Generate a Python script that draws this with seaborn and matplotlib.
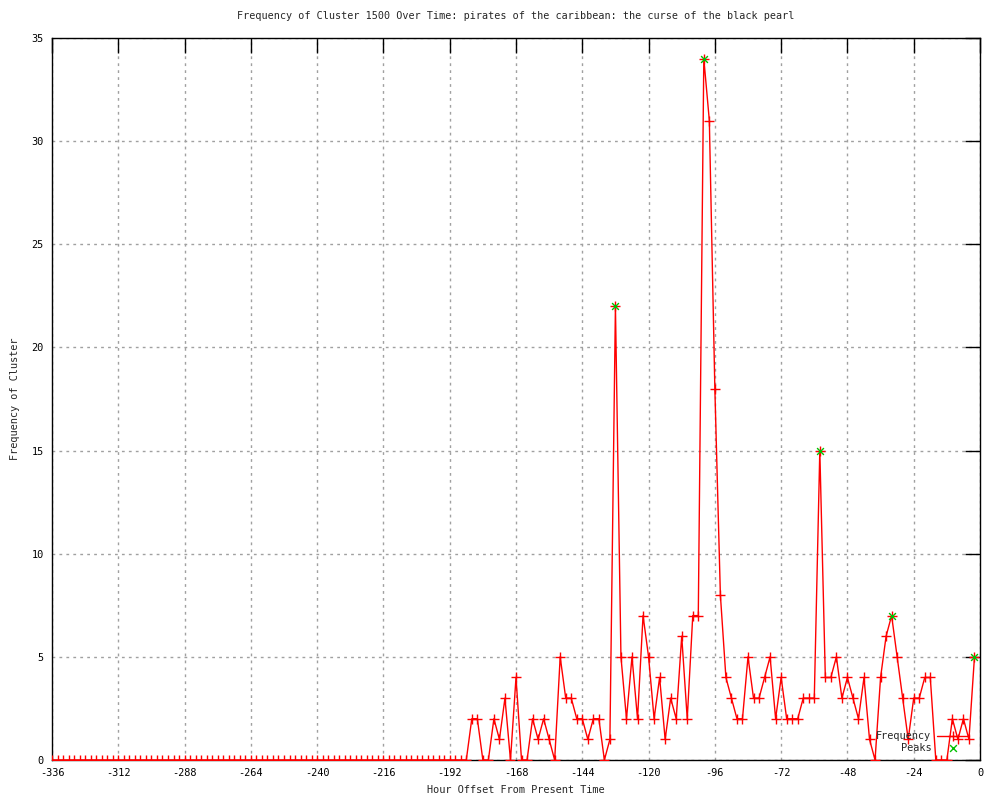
import numpy as np
import pandas as pd
import matplotlib
matplotlib.use('Agg')
import matplotlib.pyplot as plt
import seaborn as sns

# --- Data ---
# one sample every two hours, from -336 up to -2
hours = list(range(-336, 0, 2))

frequency = [
    # -336 .. -186: nothing
    0, 0, 0, 0, 0, 0, 0, 0, 0, 0, 0, 0, 0, 0, 0, 0, 0, 0, 0,
    0, 0, 0, 0, 0, 0, 0, 0, 0, 0, 0, 0, 0, 0, 0, 0, 0, 0, 0,
    0, 0, 0, 0, 0, 0, 0, 0, 0, 0, 0, 0, 0, 0, 0, 0, 0, 0, 0,
    0, 0, 0, 0, 0, 0, 0, 0, 0, 0, 0, 0, 0, 0, 0, 0, 0, 0, 0,
    # -184 .. -134
    2, 2, 0, 0, 2, 1, 3, 0, 4, 0, 0, 2, 1, 2, 1, 0, 5, 3, 3, 2, 2, 1, 2, 2, 0, 1,
    # -132 .. -102
    22, 5, 2, 5, 2, 7, 5, 2, 4, 1, 3, 2, 6, 2, 7, 7,
    # -100 .. -60
    34, 31, 18, 8, 4, 3, 2, 2, 5, 3, 3, 4, 5, 2, 4, 2, 2, 2, 3, 3, 3,
    # -58 .. -2
    15, 4, 4, 5, 3, 4, 3, 2, 4, 1, 0, 4, 6, 7, 5, 3, 1, 3, 3, 4, 4,
    0, 0, 0, 2, 1, 2, 1, 5,
]

peak_hours = [-132, -100, -58, -32, -2]

x_ticks = list(range(-336, 1, 24))
y_ticks = list(range(0, 36, 5))

TITLE = 'Frequency of Cluster 1500 Over Time: pirates of the caribbean: the curse of the black pearl'


def main():
    df = pd.DataFrame({'hour': hours, 'freq': frequency})
    peaks = df[df['hour'].isin(peak_hours)]

    sns.set_style('white')
    plt.rcParams['font.family'] = ['DejaVu Sans Mono']
    plt.rcParams['font.size'] = 7.4
    plt.rcParams['axes.unicode_minus'] = False

    fig = plt.figure(figsize=(10, 8), dpi=100)
    ax = fig.add_axes([0.052, 0.05, 0.928, 0.9025])

    sns.lineplot(data=df, x='hour', y='freq', ax=ax, color='red', lw=1,
                 marker='+', markersize=6.5, markeredgewidth=1,
                 markeredgecolor='red', label='Frequency', zorder=3)
    sns.scatterplot(data=peaks, x='hour', y='freq', ax=ax, marker='x',
                    color='#00c000', s=24, linewidth=1, label='Peaks', zorder=4)

    ax.set_xlim(-336, 0)
    ax.set_ylim(0, 35)
    ax.set_xticks(x_ticks)
    ax.set_yticks(y_ticks)

    # gnuplot look: dotted grey grid, inward ticks on all four sides
    ax.grid(True, color='#a0a0a0', linestyle=(0, (2, 3)), lw=1)
    ax.tick_params(direction='in', length=11, width=1, top=True, right=True,
                   labelsize=7.4, pad=6, colors='black')
    for sp in ax.spines.values():
        sp.set_color('black')
        sp.set_linewidth(1)

    ax.set_title(TITLE, fontsize=7.3, pad=14)
    ax.set_xlabel('Hour Offset From Present Time', fontsize=7.4, labelpad=5)
    ax.set_ylabel('Frequency of Cluster', fontsize=7.4, labelpad=8)

    leg = ax.legend(loc='lower right', bbox_to_anchor=(0.993, 0.004),
                    frameon=False, markerfirst=False, handlelength=3.2,
                    handletextpad=0.5, labelspacing=0.15, borderaxespad=0,
                    fontsize=7.4)
    for t in leg.get_texts():
        t.set_ha('right')

    fig.savefig('out.png', dpi=100)


if __name__ == '__main__':
    main()
